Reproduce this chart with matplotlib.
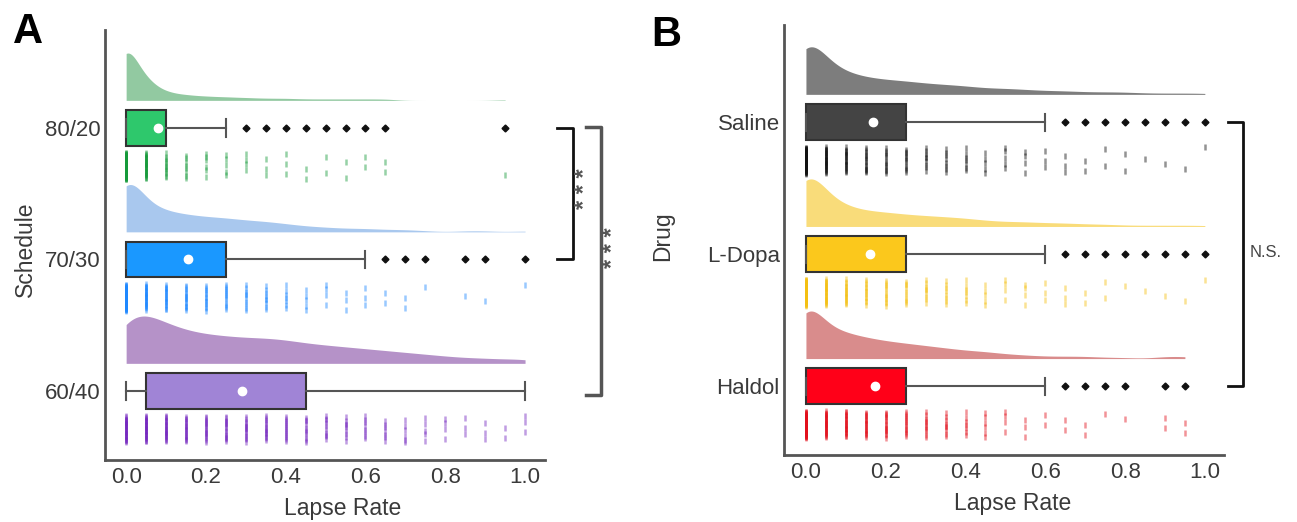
import numpy as np
import matplotlib.pyplot as plt

plt.rcParams['font.family'] = ['Liberation Sans', 'DejaVu Sans']

# lapse rate values are multiples of 0.05
lapse_vals = np.round(np.arange(0, 1.0001, 0.05), 2)

# ---- panel A : schedules ----
schedules = ['80/20', '70/30', '60/40']
counts_8020 = [90, 30, 12, 8, 6, 5, 4, 3, 3, 2, 2, 2, 2, 2, 0, 0, 0, 0, 0, 1, 0]
counts_7030 = [60, 25, 18, 15, 13, 12, 10, 9, 7, 5, 4, 3, 3, 2, 2, 1, 0, 1, 1, 0, 1]
counts_6040 = [30, 28, 22, 18, 16, 15, 14, 14, 13, 11, 10, 9, 8, 7, 6, 5, 4, 3, 3, 2, 3]
sched_q1 = [0.0, 0.0, 0.05]
sched_q3 = [0.10, 0.25, 0.45]
sched_whislo = [0.0, 0.0, 0.0]
sched_whishi = [0.25, 0.60, 1.0]
sched_mean = [0.08, 0.155, 0.29]
sched_fliers = [[0.3, 0.35, 0.4, 0.45, 0.5, 0.55, 0.6, 0.65, 0.95],
                [0.65, 0.7, 0.75, 0.85, 0.9, 1.0],
                []]

# ---- panel B : drugs ----
drugs = ['Saline', 'L-Dopa', 'Haldol']
counts_saline = [60, 27, 18, 14, 12, 11, 9, 8, 7, 5, 5, 4, 3, 3, 2, 2, 2, 1, 1, 1, 1]
counts_ldopa = [62, 26, 17, 13, 12, 10, 9, 8, 7, 5, 4, 4, 3, 3, 2, 2, 1, 1, 1, 1, 1]
counts_haldol = [58, 28, 22, 18, 15, 13, 11, 9, 7, 6, 4, 3, 2, 2, 2, 1, 1, 0, 2, 2, 0]
drug_q1 = [0.0, 0.0, 0.0]
drug_q3 = [0.25, 0.25, 0.25]
drug_whislo = [0.0, 0.0, 0.0]
drug_whishi = [0.6, 0.6, 0.6]
drug_mean = [0.168, 0.16, 0.174]
drug_fliers = [[0.65, 0.7, 0.75, 0.8, 0.85, 0.9, 0.95, 1.0],
               [0.65, 0.7, 0.75, 0.8, 0.85, 0.9, 0.95, 1.0],
               [0.65, 0.7, 0.75, 0.8, 0.9, 0.95]]

violin_cols_A = ['#92c9a1', '#a9c8ee', '#b592c8']
box_cols_A = ['#2ec86c', '#1a98ff', '#a084d6']
strip_cols_A = ['#169a3a', '#1e88ff', '#7426bf']
violin_cols_B = ['#7d7d7d', '#f9dc7a', '#d98c8c']
box_cols_B = ['#444444', '#fbc81c', '#ff0018']
strip_cols_B = ['#111111', '#f4c012', '#e2101c']

VIO_BASE = 0.21
VIO_H = 0.36
STRIP_LO, STRIP_HI = 0.19, 0.39
PHI = 0.6180339887


def half_violin(ax, counts, ypos, color):
    w = np.array(counts, float)
    n = w.sum()
    mu = (w * lapse_vals).sum() / n
    sd = np.sqrt((w * (lapse_vals - mu) ** 2).sum() / n)
    bw = 0.5 * sd * n ** (-0.2)
    xs = np.linspace(lapse_vals[w > 0].min(), lapse_vals[w > 0].max(), 400)
    dens = (w[:, None] * np.exp(-0.5 * ((xs[None, :] - lapse_vals[:, None]) / bw) ** 2)).sum(0)
    dens = dens / dens.max() * VIO_H
    ax.fill_between(xs, ypos - VIO_BASE, ypos - VIO_BASE - dens, color=color, lw=0)


def strip(ax, counts, ypos, color):
    for v, c in zip(lapse_vals, counts):
        if c == 0:
            continue
        k = np.arange(c)
        frac = ((k + 0.5) * PHI + v * 3.7) % 1.0
        ys = ypos + STRIP_LO + (STRIP_HI - STRIP_LO) * frac
        ax.scatter(np.full(c, v), ys, s=18, marker='|', color=color,
                   alpha=0.45, linewidths=1.8)


def boxes(ax, q1, q3, lo, hi, means, fliers, cols):
    stats = []
    for i in range(len(q1)):
        stats.append(dict(med=q1[i], q1=q1[i], q3=q3[i], whislo=lo[i],
                          whishi=hi[i], mean=means[i], fliers=fliers[i]))
    bp = ax.bxp(stats, positions=range(len(q1)), widths=0.27, vert=False,
                patch_artist=True, showmeans=True, capwidths=0.13,
                boxprops=dict(edgecolor='#333333', linewidth=1.5),
                whiskerprops=dict(color='#555555', linewidth=1.5),
                capprops=dict(color='#555555', linewidth=1.5),
                medianprops=dict(visible=False),
                meanprops=dict(marker='o', markerfacecolor='white',
                               markeredgecolor='white', markersize=6),
                flierprops=dict(marker='D', markerfacecolor='#111111',
                                markeredgecolor='#111111', markersize=3.5),
                manage_ticks=False)
    for patch, c in zip(bp['boxes'], cols):
        patch.set_facecolor(c)


def style(ax, labels, ylabel, ylim, xlim, xl_x, yl_x, yl_y):
    ax.set_xlim(*xlim)
    ax.set_ylim(*ylim)
    ax.set_yticks(range(len(labels)))
    ax.set_yticklabels(labels)
    ax.set_xticks([0, 0.2, 0.4, 0.6, 0.8, 1.0])
    ax.set_xticklabels(['0.0', '0.2', '0.4', '0.6', '0.8', '1.0'])
    ax.tick_params(length=0, labelsize=16, colors='#3a3a3a')
    ax.tick_params(axis='x', pad=5)
    ax.tick_params(axis='y', pad=3)
    for s in ['top', 'right']:
        ax.spines[s].set_visible(False)
    for s in ['left', 'bottom']:
        ax.spines[s].set_linewidth(2)
        ax.spines[s].set_color('#555555')
    ax.set_xlabel('Lapse Rate', fontsize=16.5, color='#3a3a3a')
    ax.set_ylabel(ylabel, fontsize=16.5, color='#3a3a3a')
    ax.xaxis.set_label_coords(xl_x, -0.085)
    ax.yaxis.set_label_coords(yl_x, yl_y)


fig = plt.figure(figsize=(12.97, 5.22), dpi=100)
axA = fig.add_axes([105 / 1297, 1 - 460 / 522, 440 / 1297, 430 / 522])
axB = fig.add_axes([784 / 1297, 1 - 455 / 522, 440 / 1297, 430 / 522])

for i, cnt in enumerate([counts_8020, counts_7030, counts_6040]):
    half_violin(axA, cnt, i, violin_cols_A[i])
    strip(axA, cnt, i, strip_cols_A[i])
boxes(axA, sched_q1, sched_q3, sched_whislo, sched_whishi, sched_mean, sched_fliers, box_cols_A)
style(axA, schedules, 'Schedule', (2.525, -0.745), (-0.053, 1.05), 0.54, -0.155, 0.49)

for i, cnt in enumerate([counts_saline, counts_ldopa, counts_haldol]):
    half_violin(axB, cnt, i, violin_cols_B[i])
    strip(axB, cnt, i, strip_cols_B[i])
boxes(axB, drug_q1, drug_q3, drug_whislo, drug_whishi, drug_mean, drug_fliers, box_cols_B)
style(axB, drugs, 'Drug', (2.52, -0.735), (-0.055, 1.048), 0.52, -0.25, 0.51)

# significance brackets
axA.plot([1.080, 1.120, 1.120, 1.080], [0, 0, 1.0, 1.0], color='#111111', lw=2, clip_on=False)
axA.text(1.152, 0.46, '* * *', rotation=90, ha='center', va='center', fontsize=17,
         fontweight='bold', color='#555555')
axA.plot([1.153, 1.190, 1.190, 1.153], [-0.01, -0.01, 2.03, 2.03], color='#555555', lw=2.5, clip_on=False)
axA.text(1.222, 0.91, '* * *', rotation=90, ha='center', va='center', fontsize=17,
         fontweight='bold', color='#555555')

axB.plot([1.058, 1.095, 1.095, 1.058], [0, 0, 2.0, 2.0], color='#111111', lw=2, clip_on=False)
axB.text(1.113, 0.99, 'N.S.', ha='left', va='center', fontsize=12, color='#444444')

fig.text(0.010, 0.977, 'A', fontsize=30, fontweight='bold', ha='left', va='top')
fig.text(0.502, 0.972, 'B', fontsize=30, fontweight='bold', ha='left', va='top')

fig.savefig('out.png', dpi=100)
